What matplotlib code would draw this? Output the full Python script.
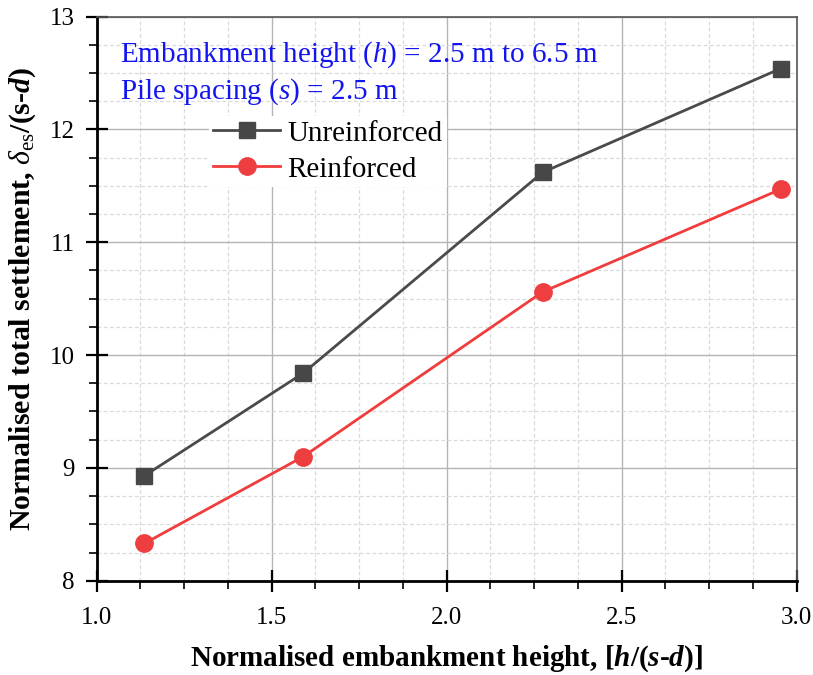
import matplotlib
matplotlib.use("Agg")
import matplotlib.pyplot as plt
from matplotlib.ticker import MultipleLocator

x_vals = [1.136, 1.590, 2.274, 2.954]
unreinforced = [8.93, 9.84, 11.62, 12.54]
reinforced = [8.33, 9.10, 10.56, 11.47]
series_labels = ["Unreinforced", "Reinforced"]
xticks = [1.0, 1.5, 2.0, 2.5, 3.0]
yticks = [8, 9, 10, 11, 12, 13]

plt.rcParams['font.family'] = ['Liberation Serif', 'DejaVu Serif']
plt.rcParams['mathtext.fontset'] = 'custom'
plt.rcParams['mathtext.rm'] = 'Liberation Serif'
plt.rcParams['mathtext.it'] = 'Liberation Serif:italic'
plt.rcParams['mathtext.bf'] = 'Liberation Serif:bold'
plt.rcParams['mathtext.bfit'] = 'Liberation Serif:bold:italic'

fig = plt.figure(figsize=(8.13, 6.75), dpi=100)
ax = fig.add_axes([0.119, 0.1397, 0.861, 0.8356])

ax.set_xlim(1.0, 3.0)
ax.set_ylim(8, 13)
ax.set_xticks(xticks)
ax.set_yticks(yticks)
ax.set_xticklabels([f"{v:.1f}" for v in xticks])
ax.set_yticklabels([str(v) for v in yticks])
ax.xaxis.set_minor_locator(MultipleLocator(0.125))
ax.yaxis.set_minor_locator(MultipleLocator(0.25))

ax.grid(which='major', color='#b4b4b4', linewidth=1.0, linestyle='-', zorder=0)
ax.grid(which='minor', color='#dadada', linewidth=0.9, linestyle=(0, (3, 2)), zorder=0)
ax.set_axisbelow(True)

ax.tick_params(which='major', direction='inout', length=16, width=1.6,
               labelsize=18, pad=8, top=False, right=False)
ax.tick_params(axis='x', which='major', pad=11)
ax.tick_params(which='minor', direction='out', length=6, width=1.2,
               top=False, right=False)

for s in ['left', 'bottom']:
    ax.spines[s].set_linewidth(2.0)
    ax.spines[s].set_color('black')
for s in ['top', 'right']:
    ax.spines[s].set_linewidth(1.2)
    ax.spines[s].set_color('#555555')

ax.plot(x_vals, unreinforced, color='#4a4a4a', linewidth=2.0, marker='s',
        markersize=11, markerfacecolor='#474747', markeredgecolor='#474747',
        label=series_labels[0], zorder=3)
ax.plot(x_vals, reinforced, color='#f03c3c', linewidth=2.0, marker='o',
        markersize=12.5, markerfacecolor='#ee3e40', markeredgecolor='#ee3e40',
        label=series_labels[1], zorder=3)

leg = ax.legend(loc='upper left', bbox_to_anchor=(0.139, 0.85), fontsize=21,
                frameon=True, framealpha=1.0, edgecolor='none', facecolor='white',
                handlelength=2.3, handletextpad=0.25, labelspacing=0.33,
                borderpad=0.15, fancybox=False)

ax.text(0.033, 0.96, r"Embankment height ($h$) = 2.5 m to 6.5 m", transform=ax.transAxes,
        fontsize=21, color='#1414f0', va='top', ha='left')
ax.text(0.033, 0.895, r"Pile spacing ($s$) = 2.5 m", transform=ax.transAxes,
        fontsize=21, color='#1414f0', va='top', ha='left')

ax.set_xlabel(r"Normalised embankment height, [$\mathbfit{h}$/($\mathbfit{s}$-$\mathbfit{d}$)]",
              fontsize=21, fontweight='bold', labelpad=10)
ax.set_ylabel(r"Normalised total settlement, $\delta_{\mathrm{es}}$/(s-$\mathbfit{d}$)",
              fontsize=21.5, fontweight='bold', labelpad=8)

fig.savefig("out.png", dpi=100)
